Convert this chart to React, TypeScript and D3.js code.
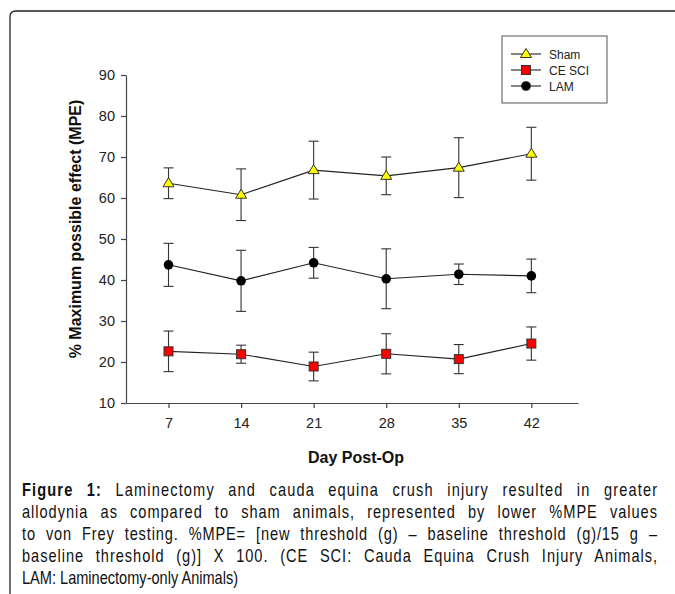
import { useEffect, useRef } from 'react';
import * as d3 from 'd3';

const days = [7, 14, 21, 28, 35, 42];
const yTicks = [10, 20, 30, 40, 50, 60, 70, 80, 90];

const shamMean = [63.6, 60.8, 66.8, 65.4, 67.4, 70.8];
const shamSem = [3.75, 6.3, 7.05, 4.6, 7.3, 6.45];
const lamMean = [43.7, 39.8, 44.2, 40.3, 41.4, 41.0];
const lamSem = [5.25, 7.45, 3.75, 7.3, 2.5, 4.1];
const cesciMean = [22.6, 21.9, 18.9, 22.0, 20.7, 24.5];
const cesciSem = [4.95, 2.2, 3.5, 4.9, 3.55, 4.05];

const captionLines = [
  'Laminectomy and cauda equina crush injury resulted in greater',
  'allodynia as compared to sham animals, represented by lower %MPE values',
  'to von Frey testing. %MPE= [new threshold (g) \u2013 baseline threshold (g)/15 g \u2013',
  'baseline threshold (g)] X 100. (CE SCI: Cauda Equina Crush Injury Animals,',
  'LAM: Laminectomy-only Animals)',
];

const W = 675;
const H = 594;
const FONT = '"Liberation Sans", Arial, sans-serif';
// no narrow face installed, so the caption is squeezed horizontally
const SQUEEZE = 0.81;
const CAP_X = 22;
const CAP_WIDTH = 635;

const x = d3.scaleLinear().domain([2.9, 46.5]).range([126, 578]);
const y = d3.scaleLinear().domain([10, 90]).range([403, 75]);

type Kind = 'tri' | 'sq' | 'dot';

function Marker({ kind, cx, cy }: { kind: Kind; cx: number; cy: number }) {
  if (kind === 'tri') {
    const p = d3.path();
    p.moveTo(cx, cy - 5.5);
    p.lineTo(cx + 5.5, cy + 3.5);
    p.lineTo(cx - 5.5, cy + 3.5);
    p.closePath();
    return <path d={p.toString()} fill="#ffff00" stroke="#333" strokeWidth={1} />;
  }
  if (kind === 'sq') {
    return <rect x={cx - 4.5} y={cy - 4.5} width={9} height={9} fill="#ff0000" stroke="#333" strokeWidth={1} />;
  }
  return <circle cx={cx} cy={cy} r={4.8} fill="#000" />;
}

const series = [
  { name: 'Sham', kind: 'tri' as Kind, mean: shamMean, sem: shamSem },
  { name: 'CE SCI', kind: 'sq' as Kind, mean: cesciMean, sem: cesciSem },
  { name: 'LAM', kind: 'dot' as Kind, mean: lamMean, sem: lamSem },
];

export default function App() {
  const xAxisRef = useRef<SVGGElement>(null);
  const yAxisRef = useRef<SVGGElement>(null);
  const capRef = useRef<SVGGElement>(null);

  useEffect(() => {
    const xa = d3.select(xAxisRef.current);
    xa.call(d3.axisBottom(x).tickValues(days).tickSizeInner(5).tickSizeOuter(0).tickPadding(10).tickFormat(d3.format('d')));
    const ya = d3.select(yAxisRef.current);
    ya.call(d3.axisLeft(y).tickValues(yTicks).tickSizeInner(5).tickSizeOuter(0).tickPadding(6));
    [xa, ya].forEach((g) => {
      g.selectAll('path, line').attr('stroke', '#444').attr('stroke-width', 1.2);
      g.selectAll('text').attr('fill', '#222').style('font-family', FONT).style('font-size', '14.5px');
    });

    // justify caption lines (all except the last): half the slack as letter spacing, rest on the spaces
    const target = CAP_WIDTH / SQUEEZE;
    const lines = d3.select(capRef.current).selectAll<SVGTextElement, unknown>('text.cap').nodes();
    lines.forEach((node, i) => {
      if (i === lines.length - 1) return;
      const txt = node.textContent || '';
      const spaces = txt.split(' ').length - 1;
      const len = node.getComputedTextLength();
      const ls = (0.5 * (target - len)) / txt.length;
      node.setAttribute('letter-spacing', String(ls));
      const len2 = node.getComputedTextLength() - ls;
      node.setAttribute('word-spacing', String((target - len2) / spaces));
    });
  }, []);

  const line = d3
    .line<number>()
    .x((_, i) => x(days[i]))
    .y((d) => y(d));

  return (
    <svg width={W} height={H} style={{ position: 'absolute', left: 0, top: 0, background: '#fff' }}>
      <path d={`M10,${H} V17 Q10,11 16,11 H${W}`} fill="none" stroke="#222" strokeWidth={1.3} />

      <g ref={yAxisRef} transform="translate(126,0)" />
      <g ref={xAxisRef} transform="translate(0,403)" />

      {series.map((s) => (
        <g key={s.name}>
          {s.mean.map((m, i) => {
            const cx = x(days[i]);
            const top = y(m + s.sem[i]);
            const bot = y(m - s.sem[i]);
            return (
              <g key={i} stroke="#333" strokeWidth={1.1}>
                <line x1={cx} x2={cx} y1={top} y2={bot} />
                <line x1={cx - 5} x2={cx + 5} y1={top} y2={top} />
                <line x1={cx - 5} x2={cx + 5} y1={bot} y2={bot} />
              </g>
            );
          })}
          <path d={line(s.mean) || ''} fill="none" stroke="#222" strokeWidth={1.1} />
          {s.mean.map((m, i) => (
            <Marker key={i} kind={s.kind} cx={x(days[i])} cy={y(m)} />
          ))}
        </g>
      ))}

      <g>
        <rect x={502} y={36} width={105} height={67} fill="#fff" stroke="#555" strokeWidth={1} />
        {series.map((s, i) => (
          <g key={s.name} transform={`translate(0,${54 + i * 16})`}>
            <line x1={511} x2={541} y1={0} y2={0} stroke="#222" strokeWidth={1.1} />
            <Marker kind={s.kind} cx={526} cy={0} />
            <text x={549} y={4.5} fontFamily={FONT} fontSize={12} fill="#222">
              {s.name}
            </text>
          </g>
        ))}
      </g>

      <text
        transform="translate(81,229) rotate(-90)"
        textAnchor="middle"
        fontFamily={FONT}
        fontWeight="bold"
        fontSize={16}
        fill="#111"
      >
        % Maximum possible effect (MPE)
      </text>
      <text x={356} y={463} textAnchor="middle" fontFamily={FONT} fontWeight="bold" fontSize={16} fill="#111">
        Day Post-Op
      </text>

      <g ref={capRef} transform={`translate(${CAP_X},0) scale(${SQUEEZE},1)`} fontFamily={FONT} fontSize={18} fill="#111">
        {captionLines.map((t, i) => (
          <text key={i} className="cap" x={0} y={496 + i * 22}>
            {i === 0 ? (
              <>
                <tspan fontWeight="bold">Figure 1:</tspan> {t}
              </>
            ) : (
              t
            )}
          </text>
        ))}
      </g>
    </svg>
  );
}
